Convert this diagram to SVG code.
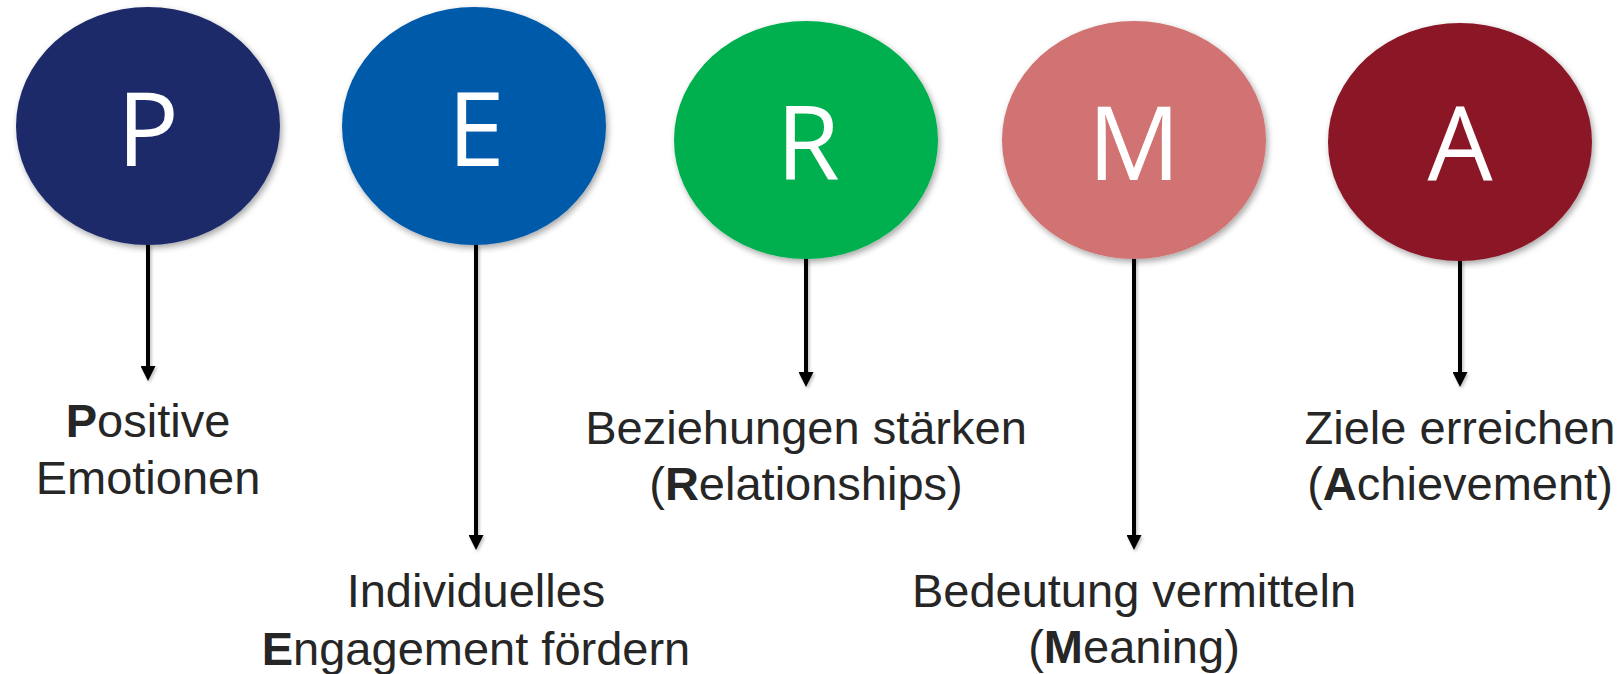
<svg xmlns="http://www.w3.org/2000/svg" width="1623" height="674" viewBox="0 0 1623 674">
  <defs>
    <filter id="shadow" x="-10%" y="-10%" width="125%" height="125%">
      <feDropShadow dx="2" dy="3" stdDeviation="3" flood-color="#000" flood-opacity="0.35"/>
    </filter>
    <filter id="lineShadow" x="-100%" y="-5%" width="300%" height="115%">
      <feDropShadow dx="1.5" dy="2" stdDeviation="1.5" flood-color="#000" flood-opacity="0.25"/>
    </filter>
    <marker id="arrow" viewBox="0 0 15 15" markerWidth="15" markerHeight="15" markerUnits="userSpaceOnUse" refX="2" refY="7.5" orient="auto">
      <path d="M0,0 L15,7.5 L0,15 Z" fill="#000"/>
    </marker>
    <style>
      .bubble { filter: url(#shadow); }
      .letter { font-family: "Open Sans", "Noto Sans", sans-serif; font-size: 103px; fill: #ffffff; text-anchor: middle; }
      .label { font-family: "Liberation Sans", Arial, sans-serif; font-size: 47px; fill: #262626; text-anchor: middle; }
      .label tspan.key { font-weight: bold; }
      .conn { stroke: #000; stroke-width: 4; fill: none; marker-end: url(#arrow); }
    </style>
  </defs>

  <rect width="1623" height="674" fill="#ffffff"/>

  <!-- connectors from each circle down to its label -->
  <g id="connectors" filter="url(#lineShadow)">
    <line class="conn" x1="148" y1="244" x2="148" y2="368"/>
    <line class="conn" x1="476" y1="244" x2="476" y2="537"/>
    <line class="conn" x1="806" y1="258" x2="806" y2="374"/>
    <line class="conn" x1="1134" y1="258" x2="1134" y2="537"/>
    <line class="conn" x1="1460" y1="260" x2="1460" y2="374"/>
  </g>

  <g id="node-P">
    <ellipse class="bubble" cx="148" cy="126" rx="132" ry="119" fill="#1E2C6B"/>
    <text class="letter" x="148" y="166">P</text>
    <text class="label" x="148" y="437"><tspan class="key">P</tspan>ositive</text>
    <text class="label" x="148" y="494">Emotionen</text>
  </g>

  <g id="node-E">
    <ellipse class="bubble" cx="474" cy="126" rx="132" ry="119" fill="#015AAA"/>
    <text class="letter" x="476" y="166">E</text>
    <text class="label" x="476" y="607">Individuelles</text>
    <text class="label" x="476" y="665"><tspan class="key">E</tspan>ngagement fördern</text>
  </g>

  <g id="node-R">
    <ellipse class="bubble" cx="806" cy="140" rx="132" ry="119" fill="#00B050"/>
    <text class="letter" x="808" y="180">R</text>
    <text class="label" x="806" y="444">Beziehungen stärken</text>
    <text class="label" x="806" y="500">(<tspan class="key">R</tspan>elationships)</text>
  </g>

  <g id="node-M">
    <ellipse class="bubble" cx="1134" cy="140" rx="132" ry="119" fill="#D07372"/>
    <text class="letter" x="1134" y="180">M</text>
    <text class="label" x="1134" y="607">Bedeutung vermitteln</text>
    <text class="label" x="1134" y="663">(<tspan class="key">M</tspan>eaning)</text>
  </g>

  <g id="node-A">
    <ellipse class="bubble" cx="1460" cy="142" rx="132" ry="119" fill="#8A1828"/>
    <text class="letter" x="1460" y="180">A</text>
    <text class="label" x="1460" y="444">Ziele erreichen</text>
    <text class="label" x="1460" y="500">(<tspan class="key">A</tspan>chievement)</text>
  </g>
</svg>
